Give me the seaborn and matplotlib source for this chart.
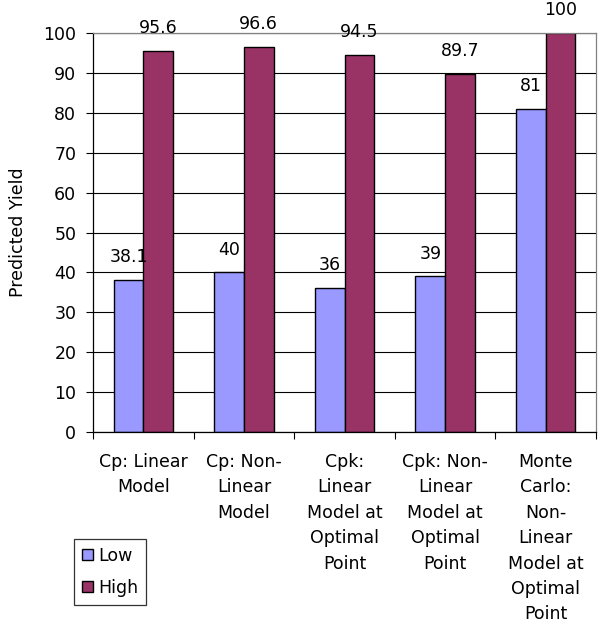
import matplotlib
matplotlib.use("Agg")
import matplotlib.pyplot as plt
import seaborn as sns
import pandas as pd
import numpy as np

categories = ["Cp: Linear\nModel", "Cp: Non-\nLinear\nModel", "Cpk:\nLinear\nModel at\nOptimal\nPoint",
              "Cpk: Non-\nLinear\nModel at\nOptimal\nPoint", "Monte\nCarlo:\nNon-\nLinear\nModel at\nOptimal\nPoint"]
low_values = [38.1, 40, 36, 39, 81]
high_values = [95.6, 96.6, 94.5, 89.7, 100]
series_names = ["Low", "High"]
yticks = list(range(0, 101, 10))

df = pd.DataFrame({
    "Category": categories * 2,
    "Series": [series_names[0]] * len(categories) + [series_names[1]] * len(categories),
    "Value": low_values + high_values,
})

sns.set_style("white")
plt.rcParams['font.family'] = ['DejaVu Sans']
plt.rcParams['text.color'] = 'black'
plt.rcParams['axes.labelcolor'] = 'black'
plt.rcParams['xtick.color'] = 'black'
plt.rcParams['ytick.color'] = 'black'

FS = 12.5

fig = plt.figure(figsize=(6.07, 6.29), dpi=100)
ax = fig.add_axes([93/607, 1-432/629, (596-93)/607, (432-33)/629])

sns.barplot(data=df, x="Category", y="Value", hue="Series", hue_order=series_names,
            palette={"Low": "#9999FF", "High": "#993366"}, width=0.59,
            edgecolor="black", linewidth=1.0, ax=ax, legend=True, saturation=1)

for c in ax.containers:
    ax.bar_label(c, labels=[f"{v:g}" for v in c.datavalues], padding=10, fontsize=FS, color="black")

ax.set_ylim(0, 100)
ax.set_yticks(yticks)
ax.set_xlim(-0.5, len(categories) - 0.5)
ax.yaxis.grid(True, color="black", linewidth=0.8)
ax.set_axisbelow(True)
ax.set_xlabel("")
ax.set_ylabel("Predicted Yield", fontsize=FS, labelpad=12, color="black")
ax.tick_params(axis="y", which="major", left=True, length=5, width=0.8, labelsize=FS, pad=7,
               color="black", labelcolor="black")
ax.tick_params(axis="x", which="major", bottom=False, length=0, labelsize=FS, pad=15, labelcolor="black")
ax.set_xticks(np.arange(-0.5, len(categories), 1.0), minor=True)
ax.tick_params(axis="x", which="minor", bottom=True, length=5, width=0.8, color="black")
for lbl in ax.get_xticklabels():
    lbl.set_linespacing(1.53)

for side in ["left", "bottom"]:
    ax.spines[side].set_color("black")
    ax.spines[side].set_linewidth(0.9)
for side in ["top", "right"]:
    ax.spines[side].set_color("#808080")
    ax.spines[side].set_linewidth(0.9)

handles, labels = ax.get_legend_handles_labels()
ax.get_legend().remove()
leg = fig.legend(handles, labels, loc="upper left", bbox_to_anchor=(74/607, 1-539/629),
                 frameon=True, fancybox=False, edgecolor="black", fontsize=FS,
                 handlelength=0.63, handleheight=0.63, handletextpad=0.3,
                 labelspacing=0.8, borderpad=0.45, borderaxespad=0)
leg.get_frame().set_linewidth(0.9)
for t in leg.get_texts():
    t.set_color("black")

fig.savefig("out.png", dpi=100)
